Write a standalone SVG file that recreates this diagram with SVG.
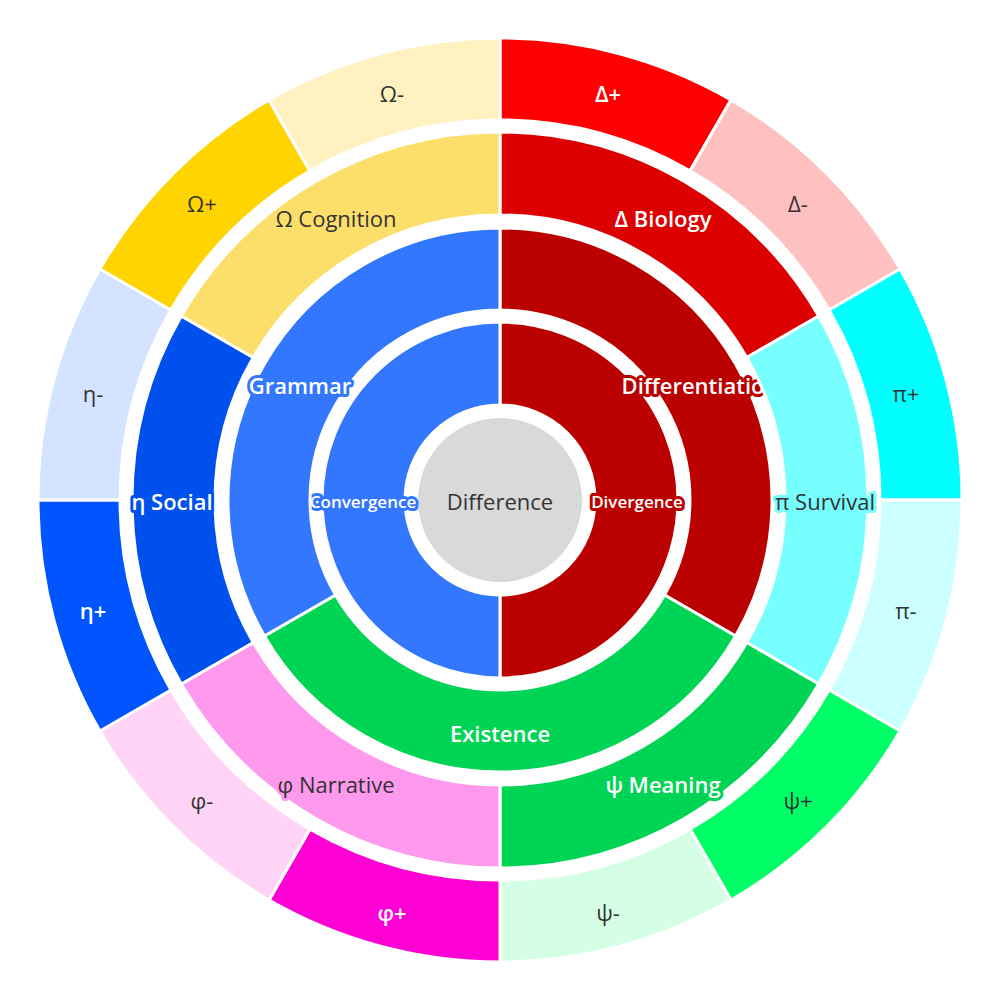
<svg xmlns="http://www.w3.org/2000/svg" width="1000" height="1000" viewBox="0 0 1000 1000">
<style>
path{stroke:#fff;stroke-width:3}
text{font-family:"Open Sans","Noto Sans",sans-serif;font-size:22px;text-anchor:middle;dominant-baseline:central}
.w{fill:#fff;font-weight:600}
.d{fill:#333}
.h{paint-order:stroke;stroke-width:6px;stroke-linejoin:round}
.s{font-size:17px}
</style>
<rect width="1000" height="1000" fill="#fff"/>
<g id="center"><circle cx="500" cy="500" r="82" fill="#d9d9d9"/><text class="d" x="500" y="501">Difference</text></g>
<g id="divergence"><path fill="#bb0000" d="M500,322 A178,178 0 0 1 500,678 L500,595 A95,95 0 0 0 500,405 Z"/><text class="w h s" stroke="#bb0000" x="637" y="501">Divergence</text></g>
<g id="convergence"><path fill="#3377ff" d="M500,678 A178,178 0 0 1 500,322 L500,405 A95,95 0 0 0 500,595 Z"/><text class="w h s" stroke="#3377ff" x="363" y="501">Convergence</text></g>
<g id="differentiation"><path fill="#bb0000" d="M500,228 A272,272 0 0 1 735.6,636 L664.5,595 A190,190 0 0 0 500,310 Z"/><text class="w h" stroke="#bb0000" x="700" y="385">Differentiation</text></g>
<g id="existence"><path fill="#00d455" d="M735.6,636 A272,272 0 0 1 264.4,636 L335.5,595 A190,190 0 0 0 664.5,595 Z"/><text class="w h" stroke="#00d455" x="500" y="733">Existence</text></g>
<g id="grammar"><path fill="#3377ff" d="M264.4,636 A272,272 0 0 1 500,228 L500,310 A190,190 0 0 0 335.5,595 Z"/><text class="w h" stroke="#3377ff" x="300" y="385">Grammar</text></g>
<g id="biology"><path fill="#dd0000" d="M500,132 A368,368 0 0 1 818.7,316 L746.8,357.5 A285,285 0 0 0 500,215 Z"/><text class="w h" stroke="#dd0000" x="663" y="218">Δ Biology</text></g>
<g id="survival"><path fill="#77ffff" d="M818.7,316 A368,368 0 0 1 818.7,684 L746.8,642.5 A285,285 0 0 0 746.8,357.5 Z"/><text class="d h" stroke="#77ffff" x="825" y="501">π Survival</text></g>
<g id="meaning"><path fill="#00d455" d="M818.7,684 A368,368 0 0 1 500,868 L500,785 A285,285 0 0 0 746.8,642.5 Z"/><text class="w h" stroke="#00d455" x="663" y="784">ψ Meaning</text></g>
<g id="narrative"><path fill="#ff99ee" d="M500,868 A368,368 0 0 1 181.3,684 L253.2,642.5 A285,285 0 0 0 500,785 Z"/><text class="d h" stroke="#ff99ee" x="336" y="784">φ Narrative</text></g>
<g id="social"><path fill="#0050ee" d="M181.3,684 A368,368 0 0 1 181.3,316 L253.2,357.5 A285,285 0 0 0 253.2,642.5 Z"/><text class="w h" stroke="#0050ee" x="172" y="501">η Social</text></g>
<g id="cognition"><path fill="#fcdf6a" d="M181.3,316 A368,368 0 0 1 500,132 L500,215 A285,285 0 0 0 253.2,357.5 Z"/><text class="d h" stroke="#fcdf6a" x="336" y="218">Ω Cognition</text></g>
<g id="delta-plus"><path fill="#ff0000" d="M500,38 A462,462 0 0 1 731,99.9 L690,170.9 A380,380 0 0 0 500,120 Z"/><text class="w" x="608" y="93">Δ+</text></g>
<g id="delta-minus"><path fill="#ffc0c0" d="M731,99.9 A462,462 0 0 1 900.1,269 L829.1,310 A380,380 0 0 0 690,170.9 Z"/><text class="d" x="798" y="203">Δ-</text></g>
<g id="pi-plus"><path fill="#00ffff" d="M900.1,269 A462,462 0 0 1 962,500 L880,500 A380,380 0 0 0 829.1,310 Z"/><text class="d" x="906" y="393">π+</text></g>
<g id="pi-minus"><path fill="#ccffff" d="M962,500 A462,462 0 0 1 900.1,731 L829.1,690 A380,380 0 0 0 880,500 Z"/><text class="d" x="906" y="610">π-</text></g>
<g id="psi-plus"><path fill="#00ff66" d="M900.1,731 A462,462 0 0 1 731,900.1 L690,829.1 A380,380 0 0 0 829.1,690 Z"/><text class="d" x="798" y="800">ψ+</text></g>
<g id="psi-minus"><path fill="#d4ffe4" d="M731,900.1 A462,462 0 0 1 500,962 L500,880 A380,380 0 0 0 690,829.1 Z"/><text class="d" x="608" y="912">ψ-</text></g>
<g id="phi-plus"><path fill="#ff00d4" d="M500,962 A462,462 0 0 1 269,900.1 L310,829.1 A380,380 0 0 0 500,880 Z"/><text class="w" x="392" y="912">φ+</text></g>
<g id="phi-minus"><path fill="#ffd4f6" d="M269,900.1 A462,462 0 0 1 99.9,731 L170.9,690 A380,380 0 0 0 310,829.1 Z"/><text class="d" x="202" y="800">φ-</text></g>
<g id="eta-plus"><path fill="#0055ff" d="M99.9,731 A462,462 0 0 1 38,500 L120,500 A380,380 0 0 0 170.9,690 Z"/><text class="w" x="93" y="610">η+</text></g>
<g id="eta-minus"><path fill="#d4e3ff" d="M38,500 A462,462 0 0 1 99.9,269 L170.9,310 A380,380 0 0 0 120,500 Z"/><text class="d" x="93" y="393">η-</text></g>
<g id="omega-plus"><path fill="#ffd400" d="M99.9,269 A462,462 0 0 1 269,99.9 L310,170.9 A380,380 0 0 0 170.9,310 Z"/><text class="d" x="202" y="203">Ω+</text></g>
<g id="omega-minus"><path fill="#fff2c0" d="M269,99.9 A462,462 0 0 1 500,38 L500,120 A380,380 0 0 0 310,170.9 Z"/><text class="d" x="392" y="93">Ω-</text></g>
<g id="connectors"/>
</svg>
